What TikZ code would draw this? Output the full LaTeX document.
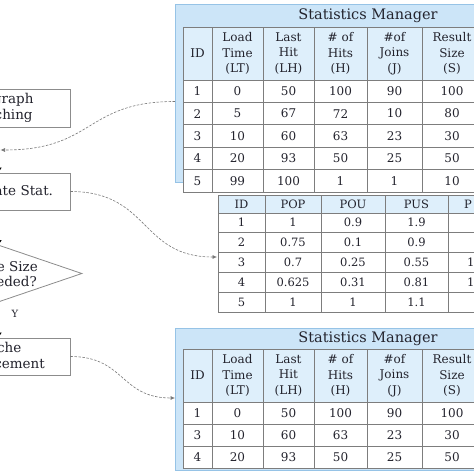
\documentclass[tikz,border=0pt]{standalone}
\usepackage{fontspec}
\setmainfont{DejaVu Serif}
\usetikzlibrary{arrows.meta,shapes.geometric}
\definecolor{panelblue}{RGB}{204,229,248}
\definecolor{paneledge}{RGB}{150,195,230}
\definecolor{hdrblue}{RGB}{222,239,251}
\definecolor{gridgray}{RGB}{125,125,125}
\definecolor{dashgray}{RGB}{120,120,120}
\definecolor{boxgray}{RGB}{140,140,140}
\definecolor{inkc}{RGB}{35,35,45}
\newcommand\mkcell[7]{\node[#1, minimum width={(#5-#3)*1pt}, minimum height={(#6-#4)*1pt}] (#2) at ({(#3+#5)/2},{(#4+#6)/2}) {#7};}
\begin{document}
\begin{tikzpicture}[x=1pt,y=-1pt,
  every node/.style={text=inkc},
  panel/.style={draw=paneledge, fill=panelblue, line width=0.8pt, inner sep=0pt},
  titletext/.style={font=\fontsize{14.5}{16}\selectfont, inner sep=0pt},
  cellbase/.style={draw=gridgray, line width=0.7pt, inner sep=0pt, outer sep=0pt, align=center},
  hdr/.style={cellbase, fill=hdrblue, font=\fontsize{12}{15.5}\selectfont},
  body/.style={cellbase, fill=white, font=\fontsize{12}{14}\selectfont},
  hdrB/.style={cellbase, fill=hdrblue, font=\fontsize{11.5}{13}\selectfont},
  bodyB/.style={cellbase, fill=white, font=\fontsize{11.5}{13}\selectfont},
  fbox/.style={draw=boxgray, line width=0.8pt, fill=white, minimum width=140pt, align=center, inner sep=0pt, font=\fontsize{13.5}{16}\selectfont},
  dia/.style={diamond, draw=boxgray, line width=0.8pt, fill=white, aspect=2.93, minimum width=164pt, minimum height=56pt, inner sep=0pt, align=center, font=\fontsize{13.5}{15}\selectfont},
  flow/.style={draw=black, line width=0.6pt, -{Latex[length=5pt,width=6pt]}},
  dconn/.style={draw=dashgray, line width=0.6pt, dash pattern=on 2.5pt off 1.5pt, -{Latex[length=4.5pt,width=4pt]}},
]
\useasboundingbox (0,0) rectangle (474,474);
\fill[white] (0,0) rectangle (474,474);
\clip (0,0) rectangle (474,474);

% ---------- top statistics manager ----------
\mkcell{panel}{pA}{175}{4}{490}{182}{}
\node[titletext] (pAt) at (368,16) {Statistics Manager};
\mkcell{hdr}{tA-h1}{183}{27}{212}{80}{ID}
\mkcell{hdr}{tA-h2}{212}{27}{263}{80}{Load\\Time\\(LT)}
\mkcell{hdr}{tA-h3}{263}{27}{314}{80}{Last\\Hit\\(LH)}
\mkcell{hdr}{tA-h4}{314}{27}{367}{80}{\# of\\Hits\\(H)}
\mkcell{hdr}{tA-h5}{367}{27}{422}{80}{\#of\\Joins\\(J)}
\mkcell{hdr}{tA-h6}{422}{27}{482}{80}{Result\\Size\\(S)}
\foreach \r/\ya/\yb/\vals in {1/80/102.4/{1,0,50,100,90,100},2/102.4/124.8/{2,5,67,72,10,80},3/124.8/147.2/{3,10,60,63,23,30},4/147.2/169.6/{4,20,93,50,25,50},5/169.6/192/{5,99,100,1,1,10}}{
  \foreach \v [count=\ci] in \vals {
    \pgfmathsetmacro\xa{{183,212,263,314,367,422}[\ci-1]}
    \pgfmathsetmacro\xb{{212,263,314,367,422,482}[\ci-1]}
    \mkcell{body}{tA-\r-\ci}{\xa}{\ya}{\xb}{\yb}{\v}
  }
}

% ---------- middle table ----------
\mkcell{hdrB}{tB-h1}{218}{195}{265}{213}{ID}
\mkcell{hdrB}{tB-h2}{265}{195}{321}{213}{POP}
\mkcell{hdrB}{tB-h3}{321}{195}{385}{213}{POU}
\mkcell{hdrB}{tB-h4}{385}{195}{448}{213}{PUS}
\mkcell{hdrB}{tB-h5}{448}{195}{520}{213}{}
\node[font=\fontsize{11.5}{13}\selectfont, anchor=west, inner sep=0pt] (tB-h5t) at (464,204) {P};
\foreach \r/\ya/\yb/\vals in {1/213/232/{1,1,0.9,1.9,{}},2/232/252/{2,0.75,0.1,0.9,{}},3/252/272/{3,0.7,0.25,0.55,{}},4/272/292/{4,0.625,0.31,0.81,{}},5/292/312/{5,1,1,1.1,{}}}{
  \foreach \v [count=\ci] in \vals {
    \pgfmathsetmacro\xa{{218,265,321,385,448}[\ci-1]}
    \pgfmathsetmacro\xb{{265,321,385,448,520}[\ci-1]}
    \mkcell{bodyB}{tB-\r-\ci}{\xa}{\ya}{\xb}{\yb}{\v}
  }
}
\node[font=\fontsize{11.5}{13}\selectfont, anchor=west, inner sep=0pt] (tB-3-5t) at (467,262) {1};
\node[font=\fontsize{11.5}{13}\selectfont, anchor=west, inner sep=0pt] (tB-4-5t) at (467,282) {1};

% ---------- bottom statistics manager ----------
\mkcell{panel}{pC}{175}{328}{490}{470}{}
\node[titletext] (pCt) at (368,339) {Statistics Manager};
\mkcell{hdr}{tC-h1}{183}{349}{212}{402}{ID}
\mkcell{hdr}{tC-h2}{212}{349}{263}{402}{Load\\Time\\(LT)}
\mkcell{hdr}{tC-h3}{263}{349}{314}{402}{Last\\Hit\\(LH)}
\mkcell{hdr}{tC-h4}{314}{349}{367}{402}{\# of\\Hits\\(H)}
\mkcell{hdr}{tC-h5}{367}{349}{422}{402}{\#of\\Joins\\(J)}
\mkcell{hdr}{tC-h6}{422}{349}{482}{402}{Result\\Size\\(S)}
\foreach \r/\ya/\yb/\vals in {1/402/424/{1,0,50,100,90,100},3/424/446/{3,10,60,63,23,30},4/446/468/{4,20,93,50,25,50}}{
  \foreach \v [count=\ci] in \vals {
    \pgfmathsetmacro\xa{{183,212,263,314,367,422}[\ci-1]}
    \pgfmathsetmacro\xb{{212,263,314,367,422,482}[\ci-1]}
    \mkcell{body}{tC-\r-\ci}{\xa}{\ya}{\xb}{\yb}{\v}
  }
}

% ---------- flowchart ----------
\node[fbox, minimum height=38pt] (b1) at (0,108) {Subgraph\\Matching};
\node[fbox, minimum height=37pt, text width=106pt, align=right, inner xsep=17pt, minimum width=0pt] (b2) at (0,191.5) {Update Stat.};
\node[dia] (d) at (0,273.5) {Cache Size\\Exceeded?};
\node[fbox, minimum height=37pt] (b3) at (0,356.5) {Cache\\Replacement};
\coordinate (fl) at (-1.2,0);
\draw[flow] (b1.south -| fl) -- (b2.north -| fl);
\draw[flow] (b2.south -| fl) -- (d.north -| fl);
\draw[flow] (d.south -| fl) -- (b3.north -| fl);
\node[font=\fontsize{10}{12}\selectfont, inner sep=0pt] (yl) at (15,314) {Y};

% ---------- dashed connectors ----------
\coordinate (c1s) at (175,101.5);
\coordinate (c1e) at (0.5,150);
\coordinate (c2e) at (217,257);
\coordinate (c3e) at (175,398);
\draw[dconn] (c1s) .. controls (85,101.5) and (95,150) .. (c1e);
\draw[dconn] (b2.east) .. controls (150,191.5) and (140,257) .. (c2e);
\draw[dconn] (b3.east) .. controls (125,356.5) and (120,398) .. (c3e);
\end{tikzpicture}
\end{document}
